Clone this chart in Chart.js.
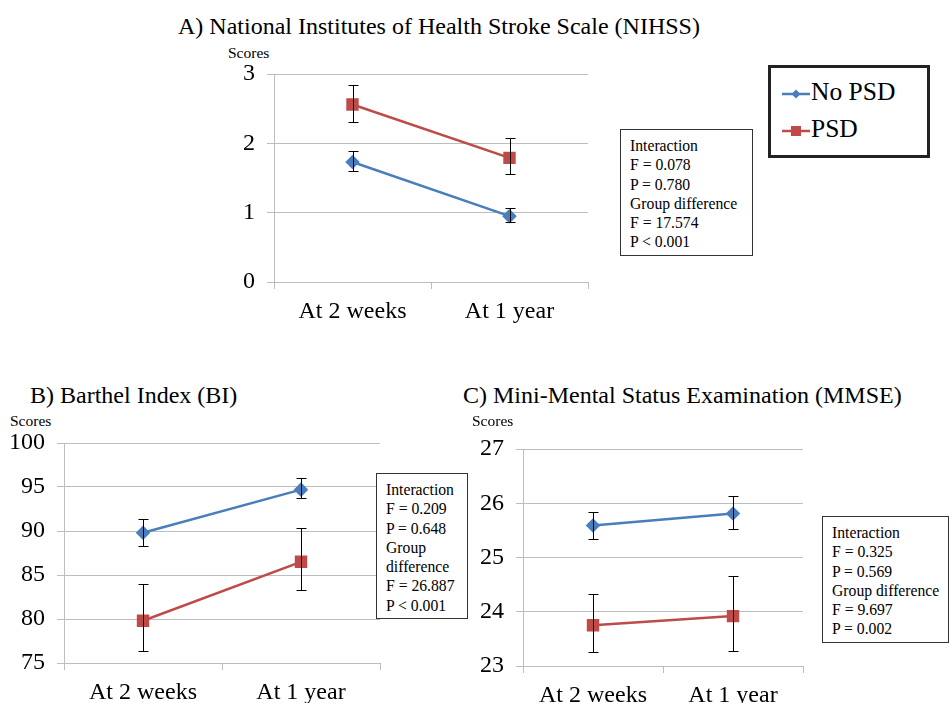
<!DOCTYPE html>
<html>
<head>
<meta charset="utf-8">
<script src="https://cdn.jsdelivr.net/npm/chart.js@4.4.1/dist/chart.umd.min.js"></script>
<style>
  body { margin: 0; width: 949px; height: 703px; overflow: hidden; position: relative; background: #fff;
         font-family: 'Liberation Serif', 'Times New Roman', serif; color: #000; }
  .abs { position: absolute; white-space: nowrap; }
  .title { font-size: 24px; line-height: 24px; }
  .scores { font-size: 15.5px; line-height: 16px; }
  .stats { position: absolute; border: 1.5px solid #333; background: #fff; box-sizing: border-box;
           font-size: 15.7px; line-height: 19.3px; padding: 6px 0 0 9px; white-space: nowrap; }
  .legend { position: absolute; left: 768px; top: 65px; width: 162px; height: 93px; box-sizing: border-box;
            border: 3px solid #222; background: #fff; font-size: 25.5px; }
  .legend div { position: absolute; left: 10px; height: 30px; line-height: 30px; }
  .legend svg { vertical-align: middle; margin-right: 0; }
  canvas { position: absolute; }
</style>
</head>
<body>

<div class="abs title" style="left:178px; top:14px;">A) National Institutes of Health Stroke Scale (NIHSS)</div>
<div class="abs scores" style="left:228px; top:45px;">Scores</div>
<canvas id="chartA" width="400" height="280" style="left:200px; top:60px;"></canvas>

<div class="legend">
  <div style="top:9px;"><svg width="30" height="14"><line x1="1" y1="7" x2="29" y2="7" stroke="#4a7ebb" stroke-width="2.5"/><polygon points="15,2.5 19.5,7 15,11.5 10.5,7" fill="#4a7ebb"/></svg>No PSD</div>
  <div style="top:46px;"><svg width="30" height="14"><line x1="1" y1="7" x2="29" y2="7" stroke="#be4b48" stroke-width="2.5"/><rect x="10" y="2" width="10" height="10" fill="#be4b48"/></svg>PSD</div>
</div>

<div class="stats" style="left:620px; top:129px; width:133px; height:127px;">
  Interaction<br>F = 0.078<br>P = 0.780<br>Group difference<br>F = 17.574<br>P &lt; 0.001
</div>

<div class="abs title" style="left:30px; top:383px;">B) Barthel Index (BI)</div>
<div class="abs scores" style="left:10px; top:413px;">Scores</div>
<canvas id="chartB" width="390" height="290" style="left:0px; top:430px;"></canvas>
<div class="stats" style="left:376px; top:473px; width:92px; height:146px;">
  Interaction<br>F = 0.209<br>P = 0.648<br>Group<br>difference<br>F = 26.887<br>P &lt; 0.001
</div>

<div class="abs title" style="left:463px; top:383px;">C) Mini-Mental Status Examination (MMSE)</div>
<div class="abs scores" style="left:472px; top:413px;">Scores</div>
<canvas id="chartC" width="360" height="290" style="left:460px; top:436px;"></canvas>
<div class="stats" style="left:822px; top:516px; width:127px; height:127px;">
  Interaction<br>F = 0.325<br>P = 0.569<br>Group difference<br>F = 9.697<br>P = 0.002
</div>

<script>
const categories = ['At 2 weeks', 'At 1 year'];

// A) NIHSS
const nihssNoPsd = [1.73, 0.95];
const nihssNoPsdLow = [1.60, 0.86];
const nihssNoPsdHigh = [1.89, 1.07];
const nihssPsd = [2.56, 1.79];
const nihssPsdLow = [2.31, 1.56];
const nihssPsdHigh = [2.84, 2.07];

// B) Barthel Index
const biNoPsd = [89.8, 94.7];
const biNoPsdLow = [88.3, 93.7];
const biNoPsdHigh = [91.4, 96.0];
const biPsd = [79.8, 86.5];
const biPsdLow = [76.4, 83.3];
const biPsdHigh = [84.0, 90.3];

// C) MMSE
const mmseNoPsd = [25.59, 25.81];
const mmseNoPsdLow = [25.34, 25.53];
const mmseNoPsdHigh = [25.84, 26.13];
const mmsePsd = [23.75, 23.92];
const mmsePsdLow = [23.25, 23.28];
const mmsePsdHigh = [24.32, 24.66];

const blue = '#4a7ebb';
const red = '#be4b48';
const gridColor = '#bdbdbd';

Chart.defaults.font.family = "'Liberation Serif', 'Times New Roman', serif";
Chart.defaults.color = '#000';

// vertical error bars with caps, placed through the chart's own scales
const errorBars = {
    id: 'errorBars',
    afterDatasetsDraw(chart) {
        const { ctx, scales: { x, y } } = chart;
        ctx.save();
        ctx.strokeStyle = '#000';
        ctx.lineWidth = 1;
        chart.data.datasets.forEach(ds => {
            ds.data.forEach((v, j) => {
                const px = Math.round(x.getPixelForValue(j)) + 0.5;
                const top = Math.round(y.getPixelForValue(ds.errHigh[j])) + 0.5;
                const bot = Math.round(y.getPixelForValue(ds.errLow[j])) + 0.5;
                ctx.beginPath();
                ctx.moveTo(px, top);
                ctx.lineTo(px, bot);
                ctx.moveTo(px - 5, top);
                ctx.lineTo(px + 5, top);
                ctx.moveTo(px - 5, bot);
                ctx.lineTo(px + 5, bot);
                ctx.stroke();
            });
        });
        ctx.restore();
    }
};

const makeChart = (id, opts) => {
    const ctx = document.getElementById(id).getContext('2d');
    return new Chart(ctx, {
        type: 'line',
        data: {
            labels: categories,
            datasets: [
                {
                    label: 'No PSD',
                    data: opts.noPsd,
                    errLow: opts.noPsdLow,
                    errHigh: opts.noPsdHigh,
                    borderColor: blue,
                    backgroundColor: blue,
                    borderWidth: 2.5,
                    pointStyle: 'rectRot',
                    pointRadius: 5.5,
                },
                {
                    label: 'PSD',
                    data: opts.psd,
                    errLow: opts.psdLow,
                    errHigh: opts.psdHigh,
                    borderColor: red,
                    backgroundColor: red,
                    borderWidth: 2.5,
                    pointStyle: 'rect',
                    pointRadius: 7,
                },
            ],
        },
        options: {
            responsive: false,
            animation: false,
            layout: { padding: { top: opts.padTop, right: opts.padRight, left: 0, bottom: 0 } },
            plugins: { legend: { display: false }, tooltip: { enabled: false } },
            scales: {
                x: {
                    offset: true,
                    afterFit: scale => { scale.height = opts.xHeight; },
                    grid: { offset: true, drawOnChartArea: false, drawTicks: true, tickLength: 7, color: gridColor },
                    border: { display: true, color: gridColor },
                    ticks: { font: { size: 24 }, padding: 8, maxRotation: 0 },
                },
                y: {
                    min: opts.min,
                    max: opts.max,
                    afterFit: scale => {
                        scale.width = opts.yWidth;
                        // let the layout padding alone decide where the plot starts
                        scale.paddingTop = 0;
                        scale.paddingBottom = 0;
                    },
                    grid: { color: gridColor, tickLength: 7 },
                    border: { display: true, color: gridColor },
                    ticks: { stepSize: opts.step, font: { size: 24 }, padding: 12 },
                },
            },
        },
        plugins: [errorBars],
    });
};

makeChart('chartA', {
    noPsd: nihssNoPsd, noPsdLow: nihssNoPsdLow, noPsdHigh: nihssNoPsdHigh,
    psd: nihssPsd, psdLow: nihssPsdLow, psdHigh: nihssPsdHigh,
    min: 0, max: 3, step: 1,
    yWidth: 74, padTop: 14, padRight: 12, xHeight: 58,
});

makeChart('chartB', {
    noPsd: biNoPsd, noPsdLow: biNoPsdLow, noPsdHigh: biNoPsdHigh,
    psd: biPsd, psdLow: biPsdLow, psdHigh: biPsdHigh,
    min: 75, max: 100, step: 5,
    yWidth: 64, padTop: 13, padRight: 10, xHeight: 57,
});

makeChart('chartC', {
    noPsd: mmseNoPsd, noPsdLow: mmseNoPsdLow, noPsdHigh: mmseNoPsdHigh,
    psd: mmsePsd, psdLow: mmsePsdLow, psdHigh: mmsePsdHigh,
    min: 23, max: 27, step: 1,
    yWidth: 63, padTop: 13, padRight: 17, xHeight: 60,
});
</script>
</body>
</html>
